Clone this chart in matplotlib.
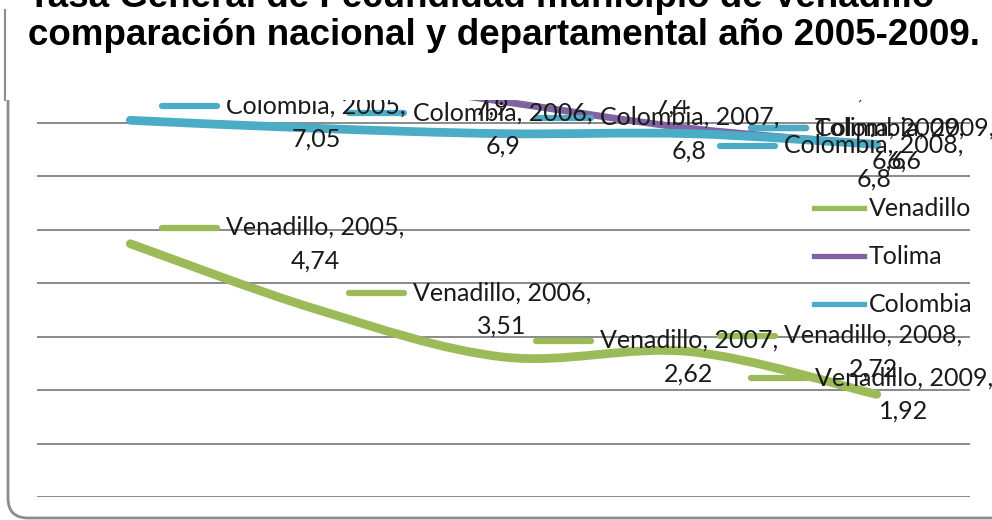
import matplotlib
matplotlib.use("Agg")
import matplotlib.pyplot as plt
from matplotlib.path import Path
from matplotlib.patches import PathPatch, FancyBboxPatch, Rectangle
from matplotlib.lines import Line2D
from matplotlib.transforms import Affine2D, ScaledTranslation, IdentityTransform

# datos
anios = [2005, 2006, 2007, 2008, 2009]
venadillo = [4.74, 3.51, 2.62, 2.72, 1.92]
tolima = [8.3, 7.9, 7.4, 6.9, 6.6]
colombia = [7.05, 6.9, 6.8, 6.8, 6.6]
series_nombres = ["Venadillo", "Tolima", "Colombia"]

titulo_1 = "Tasa General de Fecundidad municipio de Venadillo"
titulo_2 = "comparación nacional y departamental año 2005-2009."

colores = {"Venadillo": "#9BBB59", "Tolima": "#8064A2", "Colombia": "#4BACC6"}

# posicion de las etiquetas (pixeles respecto al punto: llave x, llave y)
offs = {
    "Venadillo": [(32, 16), (32, 16), (32, 16), (30, 16), (-126, 16)],
    "Tolima": [(32, 40), (36, 1), (30, 28), (32, 70), (-126, 16)],
    "Colombia": [(32, 14), (32, 15), (32, 16), (30, -12), (-126, 16)],
}

fuente = "Lato"
tam = 18

fig = plt.figure(figsize=(9.92, 5.2), dpi=100)
fig.patch.set_facecolor("white")

# marco redondeado
marco = FancyBboxPatch((8, 2), 1200, 700, boxstyle="round,pad=0,rounding_size=20",
                       transform=IdentityTransform(), facecolor="white",
                       edgecolor="#8c8c8c", linewidth=2, zorder=-2)
fig.add_artist(marco)

ax = fig.add_axes([37 / 992, 23 / 520, 933 / 992, 8 * 53.43 / 520])
ax.set_facecolor("none")
ax.set_xlim(-0.5, 4.5)
ax.set_ylim(0, 8)
ax.set_yticks(range(0, 9))
ax.grid(axis="y", color="#8a8a8a", linewidth=1.4)
ax.set_axisbelow(True)
ax.tick_params(left=False, bottom=False, labelleft=False, labelbottom=False)
for s in ax.spines.values():
    s.set_visible(False)

xs = list(range(len(anios)))


def curva(x, y):
    # curva suavizada tipo excel (bezier)
    n = len(x)
    verts = [(x[0], y[0])]
    codes = [Path.MOVETO]
    for i in range(n - 1):
        x0, y0 = (x[i - 1], y[i - 1]) if i > 0 else (x[i], y[i])
        x3, y3 = (x[i + 2], y[i + 2]) if i + 2 < n else (x[i + 1], y[i + 1])
        c1 = (x[i] + (x[i + 1] - x0) / 6, y[i] + (y[i + 1] - y0) / 6)
        c2 = (x[i + 1] - (x3 - x[i]) / 6, y[i + 1] - (y3 - y[i]) / 6)
        verts += [c1, c2, (x[i + 1], y[i + 1])]
        codes += [Path.CURVE4] * 3
    return Path(verts, codes)


datos = {"Venadillo": venadillo, "Tolima": tolima, "Colombia": colombia}
for nombre in series_nombres:
    vals = datos[nombre]
    lw = 6.3 if nombre != "Tolima" else 5
    p = PathPatch(curva(xs, vals), facecolor="none", edgecolor=colores[nombre],
                  linewidth=lw, capstyle="round", joinstyle="round", zorder=3)
    ax.add_patch(p)

# etiquetas de datos con llave de leyenda
for nombre in ["Venadillo", "Tolima", "Colombia"]:
    vals = datos[nombre]
    for i, v in enumerate(vals):
        kx, ky = offs[nombre][i]
        tr = Affine2D() + ScaledTranslation(xs[i], v, ax.transData)
        ax.add_line(Line2D([kx, kx + 55], [ky, ky], transform=tr, color=colores[nombre],
                           linewidth=4.5, solid_capstyle="round", zorder=4, clip_on=False))
        txt = "%s, %d,\n%s" % (nombre, anios[i], ("%g" % v).replace(".", ","))
        ax.text(kx + 64, ky + 12, txt, transform=tr, ha="left", va="top",
                multialignment="center", fontsize=tam, family=fuente, color="#1a1a1a",
                linespacing=1.55, zorder=5, clip_on=False)

# leyenda
manejadores = [Line2D([], [], color=colores[n], linewidth=3.8) for n in series_nombres]
leg = ax.legend(manejadores, series_nombres, loc="upper left",
                bbox_to_anchor=(791 / 992, (520 - 175) / 520), bbox_transform=fig.transFigure,
                frameon=False, prop={"family": fuente, "size": tam},
                handlelength=2.0, handletextpad=0.2, labelspacing=1.0)
for t in leg.get_texts():
    t.set_color("#1a1a1a")

# tapa blanca del titulo
fig.add_artist(Rectangle((6, 420), 1100, 200, transform=IdentityTransform(),
                         facecolor="white", edgecolor="none", zorder=10))
fig.add_artist(Line2D([5, 5], [420, 510], transform=IdentityTransform(),
                      color="#8c8c8c", linewidth=1.5, zorder=11))

fig.text(28 / 992, (520 - 7) / 520, titulo_1, fontsize=26.5, fontweight="bold",
         family=["Liberation Sans Narrow", "Liberation Sans"], va="baseline", zorder=12)
fig.text(28 / 992, (520 - 45) / 520, titulo_2, fontsize=26.5, fontweight="bold",
         family=["Liberation Sans Narrow", "Liberation Sans"], va="baseline", zorder=12)

fig.savefig("out.png", dpi=100)
